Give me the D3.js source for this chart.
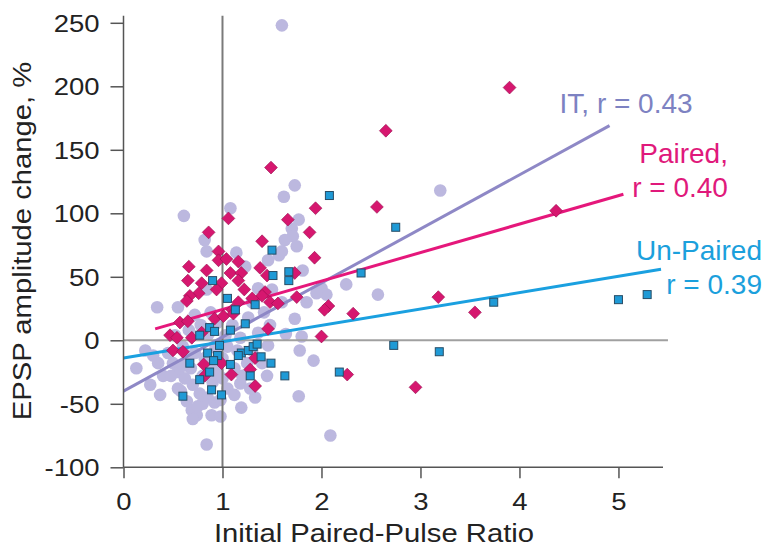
<!DOCTYPE html>
<html><head><meta charset="utf-8">
<script src="https://cdn.jsdelivr.net/npm/d3@7"></script>
<style>
body{margin:0;background:#fff;}
svg{display:block;font-family:"Liberation Sans",Arial,Helvetica,sans-serif;background:#fff;}
.tick text{font-size:23.5px;fill:#222;transform-box:fill-box;}
.xax .tick text{transform:scaleX(1.17);transform-origin:center;}
.yax .tick text{transform:scaleX(1.17);transform-origin:right center;}
</style></head><body>
<svg id="chart" width="766" height="551"></svg>
<script>
// ---- data ----
const xTicks = [0, 1, 2, 3, 4, 5];
const yTicks = [-100, -50, 0, 50, 100, 150, 200, 250];

// IT (all cells) - lavender circles: [paired-pulse ratio, EPSP change %]
const itData = [
 [1.60,248],[3.20,118],[1.73,122],[1.62,113],[1.08,104],[0.61,98],[1.77,95],[1.70,88],
 [1.71,82],[1.63,79],[1.75,74],[1.60,70],[0.82,79],[0.84,70],[1.14,69],[1.57,67],[1.46,63],
 [1.23,58],[1.81,55],[2.25,44],[2.57,36],[1.36,41],[2.00,41],[2.05,36],[1.85,30],[1.95,37],
 [0.84,40],[0.34,26],[0.55,26],[1.73,17],[1.48,12],[1.80,3],[1.78,-8],[1.92,-16],[0.13,-22],
 [0.27,-35],[0.37,-43],[1.77,-44],[1.33,-45],[1.19,-53],[1.18,-34],[2.09,-75],[0.84,-82],
 [0.74,-59],[0.89,-59],[0.69,-55],[0.92,-49],
 [0.45,-10],[0.50,-18],[0.55,-25],[0.62,-30],[0.68,-22],[0.70,-35],[0.77,-42],[0.80,-28],
 [0.85,-45],[0.90,-33],[0.95,-25],[1.00,-30],[1.05,-38],[1.12,-22],[1.20,-28],[1.25,-18],
 [0.60,-5],[0.66,8],[0.72,20],[0.78,12],[0.88,22],[0.95,14],[1.03,4],[1.10,12],[1.18,2],
 [1.26,18],[0.72,-10],[0.82,-14],[0.93,-6],[1.00,-14],[0.58,-40],[0.64,-48],[0.80,-50],
 [0.98,-47],[1.12,-43],[0.52,4],[0.40,-28],[1.30,-8],[1.36,6],[1.42,22],[1.46,-4],[1.30,30],
 [1.64,5],[1.50,40],[1.60,30],[1.28,-38],[1.45,-28],[1.40,-18],[0.30,-12],[0.22,-8],
 [0.70,-62],[0.75,-52],[0.60,-20],[0.48,-28],[0.88,-20],[1.05,-5],[0.55,-38],[0.35,-18],
 [0.65,-12],[0.86,5],[1.15,-8],[0.98,-60]
];

// Paired - magenta diamonds
const pairedData = [
 [3.90,199],[2.65,165],[1.49,136],[2.56,105],[4.37,102],[1.94,104],[1.06,96],[1.66,95],
 [0.86,85],[1.88,85],[1.40,78],[0.96,70],[1.93,65],[0.96,63],[1.04,64],[1.16,62],[0.66,58],
 [0.84,55],[1.08,53],[1.19,53],[1.38,57],[1.45,51],[1.73,53],[0.65,47],[0.79,45],[0.99,45],
 [1.16,47],[0.94,40],[1.43,38],[0.76,37],[0.67,35],[0.64,31],[1.40,35],[1.48,30],[1.16,30],
 [1.10,24],[1.56,29],[1.75,34],[2.07,27],[2.03,24],[3.18,34],[3.55,22],[2.32,21],[2.00,3],
 [2.26,-27],[2.95,-37],[0.57,14],[0.65,15],[0.47,4],[0.54,2],[0.50,-8],[0.60,-9],[0.69,2],
 [0.79,6],[0.92,17],[1.01,19],[1.11,21],[0.81,-19],[0.99,-18],[1.09,-27],[1.46,9],[1.33,-14],
 [1.28,-23],[1.33,-36],[0.82,-28],[1.22,40],[1.30,33]
];

// Un-Paired - blue squares
const unpairedData = [
 [2.08,114],[2.75,89],[2.40,53],[3.74,30],[5.00,32],[5.29,36],[2.73,-4],[3.19,-9],[2.18,-25],
 [1.63,-28],[1.50,71],[1.51,51],[1.67,54],[1.67,47],[0.90,47],[1.05,33],[1.33,28],[1.13,24],
 [0.60,-44],[0.99,-43],[0.89,-39],[0.77,-31],[0.67,-18],[0.87,-25],[1.08,-19],[1.28,-28],
 [1.49,-18],[1.39,-13],[1.19,-10],[1.26,-8],[1.31,-5],[1.35,-3],[1.23,13],[0.77,4],[0.87,10],
 [0.92,7],[1.08,8],[0.85,-10],[0.95,-12],[0.91,-16],[1.16,-12],[0.97,-4]
];

// regression lines (endpoints)
const itFit = [[0,-40],[4.91,169]];
const pairedFit = [[0.32,9],[5.05,115]];
const unpairedFit = [[0,-14],[5.43,56]];

// annotation anchors in data units
const labels = [
 {lines:["IT, r = 0.43"], x:4.405, y:179, color:"#7d82c2", anchor:"start"},
 {lines:["Paired,","r = 0.40"], x:6.106, y:139.6, color:"#e0197b", anchor:"end"},
 {lines:["Un-Paired","r = 0.39"], x:6.45, y:63.2, color:"#1ba0dc", anchor:"end"}
];

// ---- drawing ----
const svg = d3.select("#chart");
const x = d3.scaleLinear().domain([0, 5.45]).range([123.5, 663]);
const y = d3.scaleLinear().domain([-100, 250]).range([467.3, 22.8]);

// scatter: IT circles
svg.append("g").selectAll("circle").data(itData).join("circle")
  .attr("cx", d => x(d[0])).attr("cy", d => y(d[1])).attr("r", 6.3)
  .attr("fill", "#bcb8df");

// reference lines
svg.append("line").attr("x1", x(0)).attr("x2", x(5.5)).attr("y1", y(0)).attr("y2", y(0))
  .attr("stroke", "#a0a0a0").attr("stroke-width", 2);
svg.append("line").attr("x1", x(1)).attr("x2", x(1)).attr("y1", y(255.5)).attr("y2", y(-100))
  .attr("stroke", "#7a7a7a").attr("stroke-width", 2);

// regression lines
const line = d3.line().x(d => x(d[0])).y(d => y(d[1]));
svg.append("path").datum(itFit).attr("d", line).attr("stroke", "#8e88c6").attr("stroke-width", 3).attr("fill", "none");
svg.append("path").datum(pairedFit).attr("d", line).attr("stroke", "#e5177b").attr("stroke-width", 3).attr("fill", "none");
svg.append("path").datum(unpairedFit).attr("d", line).attr("stroke", "#1aa0e0").attr("stroke-width", 3).attr("fill", "none");

// diamonds
svg.append("g").selectAll("path").data(pairedData).join("path")
  .attr("transform", d => `translate(${x(d[0])},${y(d[1])}) rotate(45)`)
  .attr("d", d3.symbol(d3.symbolSquare, 82))
  .attr("fill", "#d6176f").attr("stroke", "#9a1050").attr("stroke-width", 0.6);

// squares
svg.append("g").selectAll("rect").data(unpairedData).join("rect")
  .attr("x", d => x(d[0]) - 4).attr("y", d => y(d[1]) - 4).attr("width", 8).attr("height", 8)
  .attr("fill", "#1f9ad6").attr("stroke", "#274d66").attr("stroke-width", 1);

// axes
const xAxis = svg.append("g").attr("class", "xax").attr("transform", `translate(0,${y(-100)})`)
  .call(d3.axisBottom(x).tickValues(xTicks).tickSize(11).tickSizeOuter(0).tickFormat(d => String(d)));
xAxis.select(".domain").remove();
xAxis.append("line").attr("x1", x(0)).attr("x2", x(5.45)).attr("stroke", "#555").attr("stroke-width", 1.5);
xAxis.selectAll(".tick line").attr("stroke", "#555").attr("stroke-width", 1.5);
xAxis.selectAll(".tick text").attr("y", 42.7).attr("dy", 0);

const yAxis = svg.append("g").attr("class", "yax").attr("transform", `translate(${x(0)},0)`)
  .call(d3.axisLeft(y).tickValues(yTicks).tickSize(13).tickSizeOuter(0).tickFormat(d => String(d)));
yAxis.select(".domain").remove();
yAxis.append("line").attr("y1", y(255.5)).attr("y2", y(-100)).attr("stroke", "#555").attr("stroke-width", 1.5);
yAxis.selectAll(".tick line").attr("stroke", "#555").attr("stroke-width", 1.5);
yAxis.selectAll(".tick text").attr("x", -24).attr("dy", "0.36em");

// axis titles
svg.append("text").attr("transform", "translate(374,541.7) scale(1.17,1)")
  .attr("text-anchor", "middle").attr("font-size", 25).attr("fill", "#222")
  .text("Initial Paired-Pulse Ratio");
svg.append("text").attr("transform", "translate(31,241) rotate(-90) scale(1.17,1)")
  .attr("text-anchor", "middle").attr("font-size", 25).attr("fill", "#222")
  .text("EPSP amplitude change, %");

// annotations
labels.forEach(l => {
  const t = svg.append("text").attr("font-size", 28).attr("fill", l.color).attr("text-anchor", l.anchor);
  l.lines.forEach((s, i) => {
    t.append("tspan").attr("x", x(l.x)).attr("y", y(l.y) + i * 33.5).text(s);
  });
});
</script>
</body></html>
